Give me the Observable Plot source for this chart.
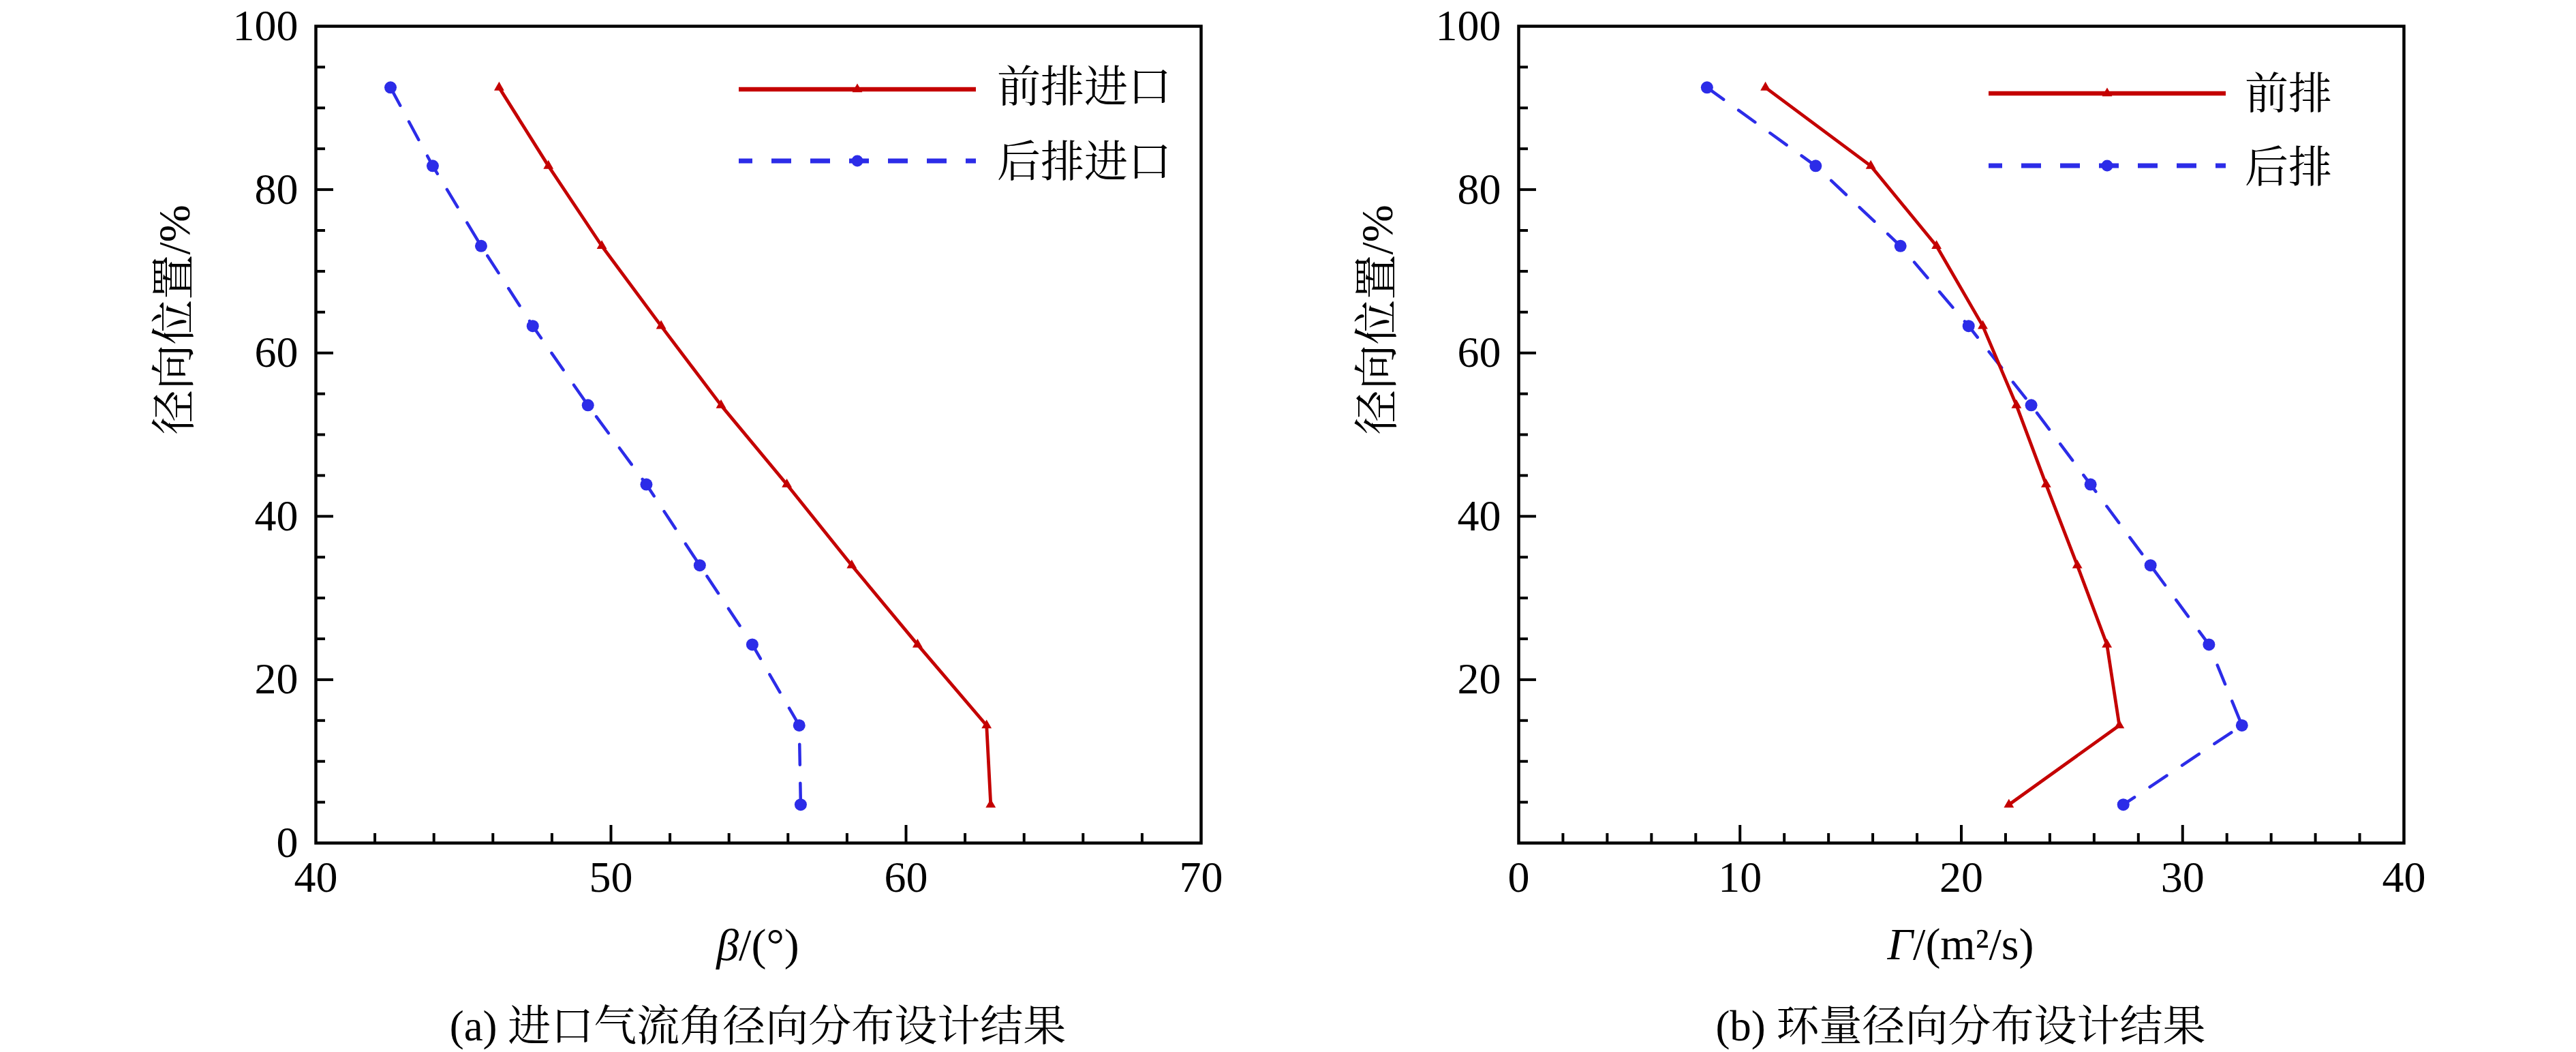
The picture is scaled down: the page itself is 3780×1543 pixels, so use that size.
<!DOCTYPE html>
<html>
<head>
<meta charset="utf-8">
<script src="https://cdn.jsdelivr.net/npm/d3@7"></script>
<script src="https://cdn.jsdelivr.net/npm/@observablehq/plot@0.6"></script>
<style>
  html, body { margin: 0; padding: 0; background: #fff; }
  #page { position: relative; width: 3780px; height: 1543px; overflow: hidden; background: #fff; }
  .panel { position: absolute; top: 0; }
  #overlay { position: absolute; left: 0; top: 0; pointer-events: none; }
</style>
</head>
<body>
<div id="page">
  <div id="panelA" class="panel" style="left:0px"></div>
  <div id="panelB" class="panel" style="left:1890px"></div>
  <svg id="overlay" width="3780" height="1543"></svg>
</div>
<script>
// ---------------- data ----------------
const radialPos = [92.5, 82.9, 73.1, 63.3, 53.6, 43.9, 34.0, 24.3, 14.4, 4.7];

const betaFront = [46.21, 47.88, 49.69, 51.70, 53.73, 55.96, 58.16, 60.39, 62.73, 62.87];
const betaRear  = [42.53, 43.96, 45.60, 47.35, 49.22, 51.20, 53.01, 54.79, 56.38, 56.43];

const gammaFront = [11.15, 15.91, 18.88, 20.97, 22.49, 23.83, 25.24, 26.58, 27.14, 22.15];
const gammaRear  = [8.51, 13.42, 17.25, 20.33, 23.16, 25.84, 28.55, 31.19, 32.68, 27.32];

// tick values
const betaTicks = [40, 50, 60, 70];
const betaMajorInner = [50, 60];
const betaMinor = [42, 44, 46, 48, 52, 54, 56, 58, 62, 64, 66, 68];
const gammaTicks = [0, 10, 20, 30, 40];
const gammaMajorInner = [10, 20, 30];
const gammaMinor = [2, 4, 6, 8, 12, 14, 16, 18, 22, 24, 26, 28, 32, 34, 36, 38];
const yTicksA = [0, 20, 40, 60, 80, 100];
const yTicksB = [20, 40, 60, 80, 100];
const yMajorInner = [20, 40, 60, 80];
const yMinor = [5, 10, 15, 25, 30, 35, 45, 50, 55, 65, 70, 75, 85, 90, 95];

// texts
const yLabel = "径向位置/%";
const legendA = ["前排进口", "后排进口"];
const legendB = ["前排", "后排"];
const xLabelA = ["β", "/(°)"];
const xLabelB = ["Γ", "/(m²/s)"];
const captionA = "(a) 进口气流角径向分布设计结果";
const captionB = "(b) 环量径向分布设计结果";

// ---------------- style ----------------
const RED = "#c40000";
const BLUE = "#2c2ce8";
const SERIF = "'Liberation Serif', 'Times New Roman', serif";
const CJK = "'Liberation Serif', 'Noto Serif CJK SC', 'Noto Sans CJK SC', serif";

const W = 1890, H = 1330, MT = 38, MB = 94;
const FW = 1299, FH = H - MT - MB;

function panel({front, rear, xDomain, xTicks, xMajorInner, xMinor, yTicks, marginLeft}) {
  const frontData = radialPos.map((y, i) => ({x: front[i], y}));
  const rearData = radialPos.map((y, i) => ({x: rear[i], y}));
  return Plot.plot({
    width: W, height: H,
    marginTop: MT, marginBottom: MB, marginLeft, marginRight: W - marginLeft - FW,
    style: {fontFamily: SERIF, fontSize: "64px", color: "black", background: "white", overflow: "visible"},
    x: {domain: xDomain, ticks: xTicks, tickSize: 0, tickPadding: 26, label: null},
    y: {domain: [0, 100], ticks: yTicks, tickSize: 0, tickPadding: 26, label: null},
    marks: [
      Plot.tickX(xMinor, {x: d => d, insetTop: FH - 14, stroke: "black", strokeWidth: 4}),
      Plot.tickX(xMajorInner, {x: d => d, insetTop: FH - 26, stroke: "black", strokeWidth: 4}),
      Plot.tickY(yMinor, {y: d => d, insetRight: FW - 14, stroke: "black", strokeWidth: 4}),
      Plot.tickY(yMajorInner, {y: d => d, insetRight: FW - 26, stroke: "black", strokeWidth: 4}),
      Plot.line(rearData, {x: "x", y: "y", stroke: BLUE, strokeWidth: 4.5, strokeDasharray: "30,27"}),
      Plot.line(frontData, {x: "x", y: "y", stroke: RED, strokeWidth: 4.8}),
      Plot.dot(rearData, {x: "x", y: "y", r: 9, fill: BLUE}),
      Plot.dot(frontData, {x: "x", y: "y", symbol: "triangle", r: 5.5, fill: RED}),
      Plot.frame({stroke: "black", strokeWidth: 4.5}),
      Plot.text([yLabel], {text: d => d, frameAnchor: "left", dx: -207, rotate: -90,
        fontFamily: CJK, fontSize: 66, fill: "black"})
    ]
  });
}

document.getElementById("panelA").appendChild(panel({
  front: betaFront, rear: betaRear, xDomain: [40, 70], xTicks: betaTicks,
  xMajorInner: betaMajorInner, xMinor: betaMinor, yTicks: yTicksA, marginLeft: 463
}));
document.getElementById("panelB").appendChild(panel({
  front: gammaFront, rear: gammaRear, xDomain: [0, 40], xTicks: gammaTicks,
  xMajorInner: gammaMajorInner, xMinor: gammaMinor, yTicks: yTicksB, marginLeft: 338
}));

// ---------------- overlay: legends, x labels, captions ----------------
const ov = d3.select("#overlay");

function legend(labels, {x1, x2, rows, textX, baselines}) {
  const mid = (x1 + x2) / 2;
  ov.append("line").attr("x1", x1).attr("x2", x2).attr("y1", rows[0]).attr("y2", rows[0])
    .attr("stroke", RED).attr("stroke-width", 6.5);
  ov.append("path").attr("d", d3.symbol(d3.symbolTriangle, 95)())
    .attr("transform", `translate(${mid},${rows[0]})`).attr("fill", RED);
  ov.append("line").attr("x1", x1).attr("x2", x2).attr("y1", rows[1]).attr("y2", rows[1])
    .attr("stroke", BLUE).attr("stroke-width", 7).attr("stroke-dasharray", "29,28")
    .attr("stroke-dashoffset", 9);
  ov.append("circle").attr("cx", mid).attr("cy", rows[1]).attr("r", 8.5).attr("fill", BLUE);
  labels.forEach((t, i) => {
    ov.append("text").attr("x", textX).attr("y", baselines[i])
      .attr("font-family", CJK).attr("font-size", 64).attr("fill", "black").text(t);
  });
}
legend(legendA, {x1: 1084, x2: 1432, rows: [131, 236], textX: 1463, baselines: [149, 259]});
legend(legendB, {x1: 2918, x2: 3266, rows: [137, 243], textX: 3294, baselines: [159, 267]});

function xLabel(parts, cx, baseline) {
  const t = ov.append("text").attr("x", cx).attr("y", baseline).attr("text-anchor", "middle")
    .attr("font-family", SERIF).attr("font-size", 66).attr("fill", "black");
  t.append("tspan").attr("font-style", "italic").text(parts[0]);
  t.append("tspan").text(parts[1]);
}
xLabel(xLabelA, 1112, 1408);
xLabel(xLabelB, 2877, 1407);

function caption(text, cx, baseline) {
  ov.append("text").attr("x", cx).attr("y", baseline).attr("text-anchor", "middle")
    .attr("font-family", CJK).attr("font-size", 63).attr("fill", "black").text(text);
}
caption(captionA, 1112, 1526);
caption(captionB, 2877, 1526);
</script>
</body>
</html>
